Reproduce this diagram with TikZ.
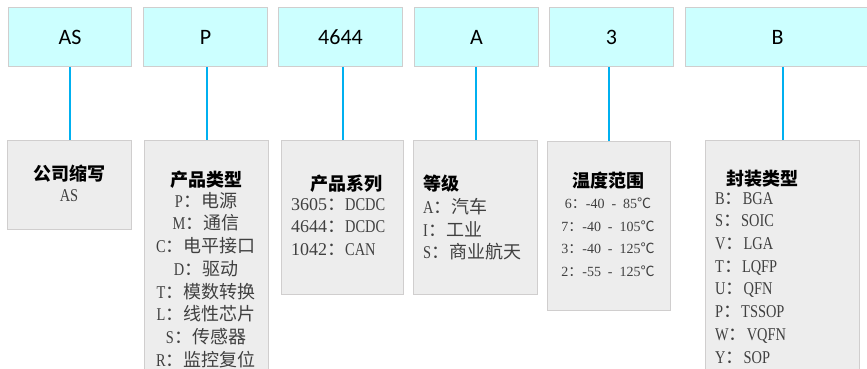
\documentclass[tikz,border=0pt]{standalone}
\usepackage{fontspec}
\setmainfont{Carlito}
\newfontfamily\cjk{Noto Sans CJK SC}
\newfontfamily\lat[FakeStretch=0.8]{Liberation Serif}
\newfontfamily\dig{Liberation Serif}
\usetikzlibrary{positioning}
\definecolor{cyanbox}{HTML}{CCFFFF}
\definecolor{graybox}{HTML}{EDEDED}
\definecolor{edgegray}{HTML}{D0CECE}
\definecolor{linkblue}{HTML}{00B0F0}
\definecolor{txtgray}{HTML}{404040}
\newcommand{\la}[1]{{\lat #1}}
\newcommand{\dg}[1]{{\dig #1}}

\begin{document}
\begin{tikzpicture}[x=1pt,y=1pt,
    code/.style={draw=edgegray,fill=cyanbox,line width=1pt,anchor=north west,minimum height=59pt,inner sep=0pt,font=\fontsize{22}{26}\selectfont},
    info/.style={draw=edgegray,fill=graybox,line width=1pt,anchor=north west,inner sep=0pt},
    head/.style={inner sep=0pt,anchor=north,font=\cjk\bfseries\fontsize{18}{22.5}\selectfont},
    body/.style={inner sep=0pt,anchor=north,text=txtgray,font=\cjk\fontsize{18}{22.7}\selectfont},
    link/.style={draw=linkblue,line width=2pt}]
    \useasboundingbox (0,0) rectangle (867,-369);
    \node[code,minimum width=123pt] (tas) at (8,-7) {AS};
    \node[code,minimum width=124pt] (tp) at (143,-7) {P};
    \node[code,minimum width=124pt] (tser) at (278,-7) {4644};
    \node[code,minimum width=124pt] (tgr) at (414,-7) {A};
    \node[code,minimum width=124pt] (ttem) at (549,-7) {3};
    \node[code,minimum width=184pt] (tpk) at (685,-7) {B};
    \node[info,minimum width=124pt,minimum height=89pt] (bas) at (7,-140) {};
    \node[info,minimum width=124pt,minimum height=235pt] (bp) at (144,-140) {};
    \node[info,minimum width=122pt,minimum height=154pt] (bser) at (281,-140) {};
    \node[info,minimum width=124pt,minimum height=154pt] (bgr) at (413,-140) {};
    \node[info,minimum width=123pt,minimum height=169pt] (btem) at (547,-141) {};
    \node[info,minimum width=154pt,minimum height=235pt] (bpk) at (705,-140) {};
    \path[link]
    (bas.north |- tas.south) edge (bas.north)
    (bp.north |- tp.south) edge (bp.north)
    (bser.north |- tser.south) edge (bser.north)
    (bgr.north |- tgr.south) edge (bgr.north)
    (btem.north |- ttem.south) edge (btem.north)
    (bpk.north |- tpk.south) edge (bpk.north)
    ;
    \node[head] (hAS) at (69,-165) {公司缩写};
    \node[body,anchor=center] (vAS) at (69,-196) {\la{AS}};
    \node[head] (hP) at (206,-171) {产品类型};
    \node[body,align=center] (vP) at (206,-192) {\la{P}：电源\\\la{M}：通信\\\la{C}：电平接口\\\la{D}：驱动\\\la{T}：模数转换\\\la{L}：线性芯片\\\la{S}：传感器\\\la{R}：监控复位};
    \node[head,anchor=north east] (hser) at (383,-175) {产品系列};
    \node[body,anchor=north west,align=left] (vser) at (291,-198) {\dg{3605}：\la{DCDC}\\\dg{4644}：\la{DCDC}\\\dg{1042}：\la{CAN}};
    \node[head,anchor=north west] (hgr) at (423,-175) {等级};
    \node[body,anchor=north west,align=left] (vgr) at (423,-198) {\la{A}：汽车\\\la{I}：工业\\\la{S}：商业航天};
    \node[head] (htem) at (608,-172) {温度范围};
    \node[body,align=center,font=\cjk\fontsize{14}{22.7}\selectfont] (vtem) at (608,-197.5) {\dg{6}：\dg{-40\enspace-\enspace85}℃\\\dg{7}：\dg{-40\enspace-\enspace105}℃\\\dg{3}：\dg{-40\enspace-\enspace125}℃\\\dg{2}：\dg{-55\enspace-\enspace125}℃};
    \node[head] (hpk) at (762,-170) {封装类型};
    \node[body,anchor=north west,align=left] (vpk) at (715,-192) {\la{B}：\la{BGA}\\\la{S}：\la{SOIC}\\\la{V}：\la{LGA}\\\la{T}：\la{LQFP}\\\la{U}：\la{QFN}\\\la{P}：\la{TSSOP}\\\la{W}：\la{VQFN}\\\la{Y}：\la{SOP}};
\end{tikzpicture}
\end{document}
